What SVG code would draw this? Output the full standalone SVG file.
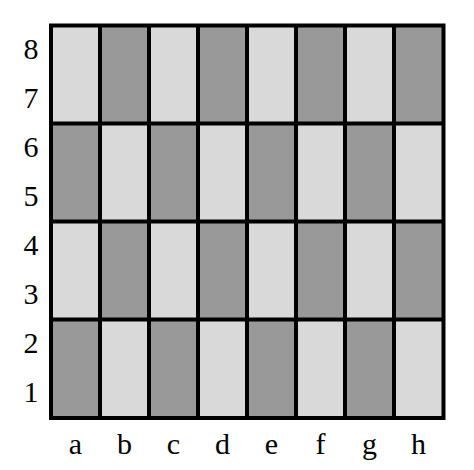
<svg xmlns="http://www.w3.org/2000/svg" width="474" height="470" viewBox="0 0 474 470">
<style>
.l{fill:#d9d9d9}
.d{fill:#999999}
.g{stroke:#000;stroke-width:4;fill:none}
text{font-family:"Liberation Serif","DejaVu Serif",serif;font-size:30px;fill:#000;text-anchor:middle}
</style>
<rect width="474" height="470" fill="#fff"/>
<g id="board">
<rect class="l" x="51" y="25.5" width="49" height="98"/><rect class="d" x="100" y="25.5" width="49" height="98"/><rect class="l" x="149" y="25.5" width="49" height="98"/><rect class="d" x="198" y="25.5" width="49" height="98"/><rect class="l" x="247" y="25.5" width="49" height="98"/><rect class="d" x="296" y="25.5" width="49" height="98"/><rect class="l" x="345" y="25.5" width="49" height="98"/><rect class="d" x="394" y="25.5" width="49.5" height="98"/>
<rect class="d" x="51" y="123.5" width="49" height="98"/><rect class="l" x="100" y="123.5" width="49" height="98"/><rect class="d" x="149" y="123.5" width="49" height="98"/><rect class="l" x="198" y="123.5" width="49" height="98"/><rect class="d" x="247" y="123.5" width="49" height="98"/><rect class="l" x="296" y="123.5" width="49" height="98"/><rect class="d" x="345" y="123.5" width="49" height="98"/><rect class="l" x="394" y="123.5" width="49.5" height="98"/>
<rect class="l" x="51" y="221.5" width="49" height="98"/><rect class="d" x="100" y="221.5" width="49" height="98"/><rect class="l" x="149" y="221.5" width="49" height="98"/><rect class="d" x="198" y="221.5" width="49" height="98"/><rect class="l" x="247" y="221.5" width="49" height="98"/><rect class="d" x="296" y="221.5" width="49" height="98"/><rect class="l" x="345" y="221.5" width="49" height="98"/><rect class="d" x="394" y="221.5" width="49.5" height="98"/>
<rect class="d" x="51" y="319.5" width="49" height="98.5"/><rect class="l" x="100" y="319.5" width="49" height="98.5"/><rect class="d" x="149" y="319.5" width="49" height="98.5"/><rect class="l" x="198" y="319.5" width="49" height="98.5"/><rect class="d" x="247" y="319.5" width="49" height="98.5"/><rect class="l" x="296" y="319.5" width="49" height="98.5"/><rect class="d" x="345" y="319.5" width="49" height="98.5"/><rect class="l" x="394" y="319.5" width="49.5" height="98.5"/>
</g>
<g id="grid">
<path class="g" d="M100,25.5V418M149,25.5V418M198,25.5V418M247,25.5V418M296,25.5V418M345,25.5V418M394,25.5V418M51,123.5H443.5M51,221.5H443.5M51,319.5H443.5"/>
<rect class="g" x="51" y="25.5" width="392.5" height="392.5"/>
</g>
<g id="ranks">
<text x="31" y="59">8</text><text x="31" y="108">7</text><text x="31" y="157">6</text><text x="31" y="206">5</text><text x="31" y="255">4</text><text x="31" y="304">3</text><text x="31" y="353">2</text><text x="31" y="402">1</text>
</g>
<g id="files">
<text x="75.5" y="454">a</text><text x="124.5" y="454">b</text><text x="173.5" y="454">c</text><text x="222.5" y="454">d</text><text x="271.5" y="454">e</text><text x="320.5" y="454">f</text><text x="369.5" y="454">g</text><text x="418.5" y="454">h</text>
</g>
</svg>
